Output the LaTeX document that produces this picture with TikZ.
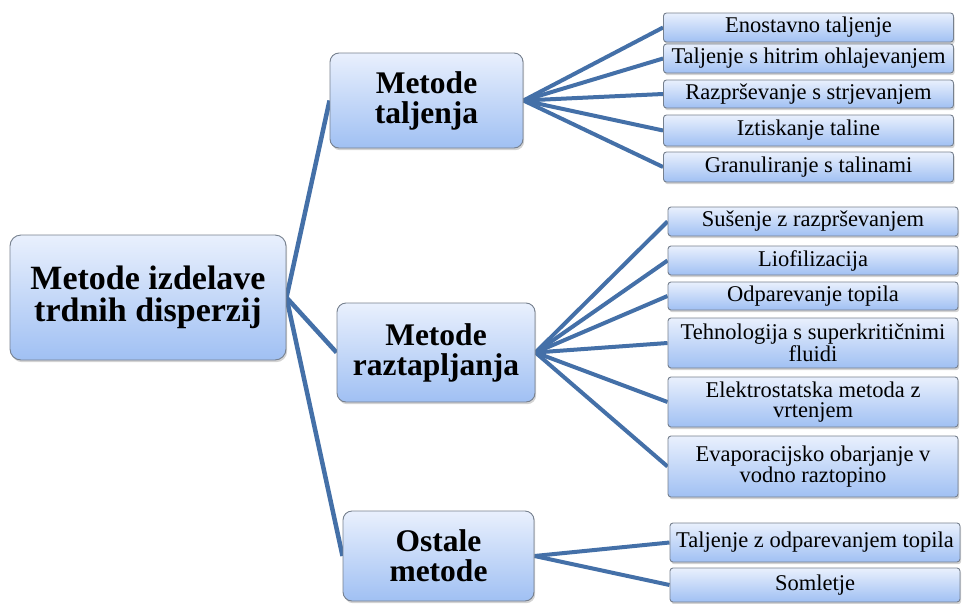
\documentclass[tikz,border=0pt]{standalone}
\usepackage{fontspec}
\setmainfont{Liberation Serif}
\usetikzlibrary{shadows,backgrounds}
\definecolor{linkblue}{RGB}{68,112,168}
\definecolor{boxtop}{RGB}{233,240,253}
\definecolor{boxbot}{RGB}{160,192,243}
\definecolor{boxrim}{RGB}{118,128,142}
\tikzset{
  box/.style={draw=boxrim,line width=0.9pt,top color=boxtop,bottom color=boxbot,align=center,inner sep=2pt,
    drop shadow={shadow xshift=1.2pt,shadow yshift=-2.2pt,opacity=0.35}},
  rootbox/.style={box,rounded corners=11pt,font=\fontsize{34}{32}\selectfont\bfseries},
  midbox/.style={box,rounded corners=9pt,font=\fontsize{31.5}{30}\selectfont\bfseries},
  leafbox/.style={box,rounded corners=3pt,minimum width=290pt,font=\fontsize{22.5}{20.5}\selectfont},
  link/.style={draw=linkblue,line width=4.5pt},
  twig/.style={draw=linkblue,line width=4pt},
}
\begin{document}
\begin{tikzpicture}[x=1pt,y=-1pt]
  \useasboundingbox (0,0) rectangle (962,603);
  \node[rootbox,minimum width=276pt,minimum height=125pt] (root) at (148,297.5) {Metode izdelave\\trdnih disperzij};
  \node[midbox,minimum width=193pt,minimum height=95pt] (melt) at (426.5,100.5) {Metode\\taljenja};
  \node[midbox,minimum width=198pt,minimum height=99pt] (solv) at (436,352.5) {Metode\\raztapljanja};
  \node[midbox,minimum width=191pt,minimum height=90pt] (other) at (438.5,556) {Ostale\\metode};
  % taljenje
  \foreach \i/\yy/\hh/\txt in {1/27.5/29/Enostavno taljenje,2/58.5/29/Taljenje s hitrim ohlajevanjem,
      3/94/28/Razprševanje s strjevanjem,4/130.5/31/Iztiskanje taline,5/167/30/Granuliranje s talinami}
    \node[leafbox,minimum height=\hh pt] (m\i) at (808.5,\yy) {\txt};
  % raztapljanje
  \foreach \i/\yy/\hh/\txt in {1/221.5/29/Sušenje z razprševanjem,2/260.5/29/Liofilizacija,3/296/28/Odparevanje topila,
      4/343/50/Tehnologija s superkritičnimi\\fluidi,5/402/50/Elektrostatska metoda z\\vrtenjem,
      6/466.5/61/Evaporacijsko obarjanje v\\vodno raztopino}
    \node[leafbox,minimum height=\hh pt] (s\i) at (813,\yy) {\txt};
  % ostale
  \node[leafbox,minimum height=39pt] (o1) at (815,542.5) {Taljenje z odparevanjem topila};
  \node[leafbox,minimum height=34pt] (o2) at (815,585) {Somletje};
  \begin{scope}[on background layer]
    \foreach \ch in {melt,solv,other} \draw[link] (root.east) -- (\ch.west);
    \foreach \i in {1,...,5} \draw[twig] (melt.east) -- (m\i.west);
    \foreach \i in {1,...,6} \draw[twig] (solv.east) -- (s\i.west);
    \foreach \i in {1,2} \draw[twig] (other.east) -- (o\i.west);
  \end{scope}
\end{tikzpicture}
\end{document}
